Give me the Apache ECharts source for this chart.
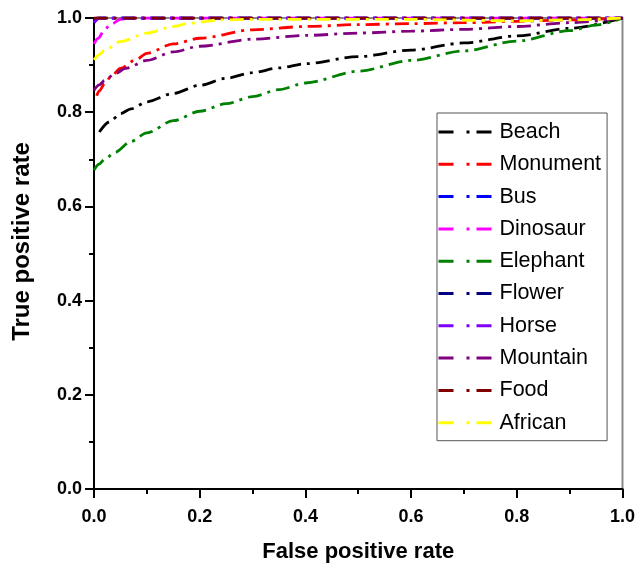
<!DOCTYPE html>
<html>
<head>
<meta charset="utf-8">
<script src="https://cdn.jsdelivr.net/npm/echarts@6/dist/echarts.min.js"></script>
<style>html,body{margin:0;padding:0;background:#fff;}#c{width:638px;height:568px;}</style>
</head>
<body>
<div id="c"></div>
<script>
var seriesNames = ['Beach','Monument','Bus','Dinosaur','Elephant','Flower','Horse','Mountain','Food','African'];
var seriesColors = ['#000000','#ff0000','#0000ff','#ff00ff','#008000','#000080','#8000ff','#800080','#800000','#ffff00'];
var xTicks = [0, 0.2, 0.4, 0.6, 0.8, 1.0];
var yTicks = [0, 0.2, 0.4, 0.6, 0.8, 1.0];

var beach = [[0.01,0.758],[0.03,0.78],[0.05,0.797],[0.07,0.807],[0.1,0.822],[0.15,0.84],[0.2,0.857],[0.25,0.872],[0.3,0.884],[0.35,0.894],[0.4,0.903],[0.5,0.918],[0.6,0.932],[0.7,0.947],[0.8,0.962],[0.9,0.978],[1,1]];
var monument = [[0.005,0.835],[0.01,0.845],[0.02,0.86],[0.03,0.873],[0.05,0.893],[0.08,0.912],[0.1,0.925],[0.15,0.945],[0.2,0.957],[0.3,0.975],[0.4,0.982],[0.5,0.986],[0.6,0.988],[0.7,0.99],[0.8,0.993],[0.9,0.996],[1,1]];
var bus = [[0,0.99],[0.01,1],[0.5,1],[1,1]];
var dinosaur = [[0,0.945],[0.008,0.957],[0.02,0.975],[0.03,0.985],[0.05,0.997],[0.07,1],[0.5,1],[1,1]];
var elephant = [[0,0.677],[0.01,0.69],[0.02,0.70],[0.04,0.715],[0.07,0.738],[0.1,0.756],[0.15,0.782],[0.2,0.802],[0.25,0.818],[0.3,0.833],[0.35,0.848],[0.4,0.862],[0.5,0.887],[0.6,0.91],[0.7,0.93],[0.8,0.951],[0.9,0.973],[0.95,0.985],[1,1]];
var flower = [[0,0.995],[0.005,1],[0.5,1],[1,1]];
var horse = [[0,0.99],[0.01,1],[0.5,1],[1,1]];
var mountain = [[0,0.847],[0.01,0.858],[0.02,0.867],[0.04,0.882],[0.06,0.893],[0.1,0.91],[0.15,0.928],[0.2,0.94],[0.3,0.955],[0.4,0.963],[0.5,0.968],[0.6,0.972],[0.7,0.976],[0.8,0.982],[0.9,0.99],[1,1]];
var food = [[0,1],[0.5,1],[1,1]];
var african = [[0,0.911],[0.01,0.922],[0.02,0.932],[0.05,0.95],[0.1,0.968],[0.15,0.982],[0.18,0.989],[0.24,0.996],[0.3,0.997],[0.6,0.997],[0.8,0.994],[0.9,0.996],[1,1]];

var seriesData = [beach, monument, bus, dinosaur, elephant, flower, horse, mountain, food, african];

var FONT = 'Liberation Sans, Arial, sans-serif';
var chart = echarts.init(document.getElementById('c'), null, {renderer: 'canvas'});

var series = seriesNames.map(function (n, i) {
  return {
    name: n,
    type: 'line',
    data: seriesData[i],
    symbol: 'none',
    smooth: 0.3,
    smoothMonotone: 'x',
    lineStyle: {color: seriesColors[i], width: 2.8, type: [14, 6, 3, 6]},
    itemStyle: {color: seriesColors[i]},
    z: 2 + i
  };
});

chart.setOption({
  animation: false,
  backgroundColor: '#ffffff',
  grid: {left: 94, right: 11, top: 18, bottom: 79, show: true, borderColor: '#8a8a8a', borderWidth: 2, backgroundColor: 'transparent'},
  legend: {
    data: seriesNames,
    orient: 'vertical',
    left: 437,
    top: 113,
    padding: [8, 6, 7, 0],
    itemWidth: 56,
    itemHeight: 14,
    itemGap: 10.3,
    backgroundColor: '#ffffff',
    borderColor: '#555555',
    borderWidth: 1,
    itemStyle: {color: 'rgba(0,0,0,0)', borderColor: 'rgba(0,0,0,0)', borderWidth: 0},
    lineStyle: {type: [15, 13, 3, 7], width: 3},
    textStyle: {fontFamily: FONT, fontSize: 21.5, color: '#000', lineHeight: 22}
  },
  xAxis: {
    type: 'value', min: 0, max: 1, interval: 0.2,
    name: 'False positive rate', nameLocation: 'middle', nameGap: 52,
    nameTextStyle: {fontFamily: FONT, fontSize: 22, fontWeight: 'bold', color: '#000'},
    axisLine: {show: true, lineStyle: {color: '#000', width: 2}},
    axisTick: {show: true, inside: false, length: 9, lineStyle: {color: '#000', width: 2}},
    minorTick: {show: true, splitNumber: 2, length: 5, lineStyle: {color: '#000', width: 2}},
    splitLine: {show: false},
    axisLabel: {fontFamily: FONT, fontSize: 18, fontWeight: 'bold', color: '#000', margin: 19,
      formatter: function (v) { return xTicks.indexOf(Math.round(v*10)/10) >= 0 ? v.toFixed(1) : ''; }}
  },
  yAxis: {
    type: 'value', min: 0, max: 1, interval: 0.2,
    name: 'True positive rate', nameLocation: 'middle', nameGap: 60, nameRotate: 90,
    nameTextStyle: {fontFamily: FONT, fontSize: 24, fontWeight: 'bold', color: '#000', padding: [0, 0, 0, 24]},
    axisLine: {show: true, lineStyle: {color: '#000', width: 2}},
    axisTick: {show: true, inside: false, length: 9, lineStyle: {color: '#000', width: 2}},
    minorTick: {show: true, splitNumber: 2, length: 5, lineStyle: {color: '#000', width: 2}},
    splitLine: {show: false},
    axisLabel: {fontFamily: FONT, fontSize: 18, fontWeight: 'bold', color: '#000', margin: 12,
      formatter: function (v) { return yTicks.indexOf(Math.round(v*10)/10) >= 0 ? v.toFixed(1) : ''; }}
  },
  series: series
});
</script>
</body>
</html>
